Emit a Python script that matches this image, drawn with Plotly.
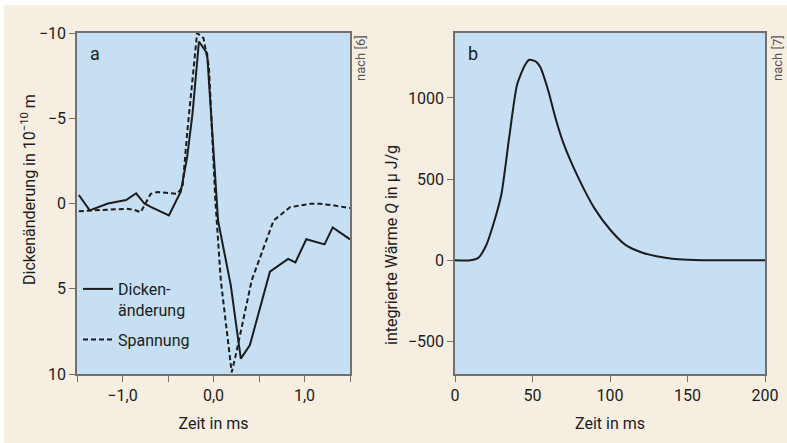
import plotly.graph_objects as go

# ---- Panel a data ----
t_dicke = [-1.48, -1.36, -1.16, -1.05, -0.96, -0.85, -0.76, -0.69, -0.49, -0.36, -0.29, -0.23,
           -0.16, -0.07, 0.05, 0.19, 0.30, 0.40, 0.62, 0.82, 0.90, 1.02, 1.22, 1.31, 1.50]
dicke = [-0.5, 0.4, 0.0, -0.1, -0.2, -0.6, 0.0, 0.2, 0.7, -0.7, -2.7, -5.3,
         -9.5, -8.8, 1.0, 4.8, 9.1, 8.3, 4.0, 3.25, 3.45, 2.1, 2.4, 1.4, 2.1]

t_spann = [-1.48, -1.23, -0.96, -0.87, -0.80, -0.69, -0.62, -0.40, -0.34, -0.29, -0.22, -0.18,
           -0.11, -0.05, 0.02, 0.08, 0.20, 0.24, 0.42, 0.55, 0.66, 0.84, 1.06, 1.17, 1.31, 1.50]
spann = [0.45, 0.37, 0.31, 0.37, 0.51, -0.57, -0.67, -0.57, -0.96, -4.1, -8.0, -10.0,
         -9.7, -8.0, -0.2, 4.5, 9.9, 9.0, 4.5, 2.6, 1.0, 0.22, 0.02, 0.02, 0.1, 0.27]

a_yticks = [-10, -5, 0, 5, 10]
a_yticklabels = ["\u221210", "\u22125", "0", "5", "10"]
a_xticks = [-1.0, 0.0, 1.0]
a_xticklabels = ["\u22121,0", "0,0", "1,0"]

# ---- Panel b data ----
t_b = [0, 10, 15, 20, 25, 30, 35, 40, 45, 48, 52, 55, 60, 65, 70, 80, 90, 100, 110, 120,
       130, 140, 150, 160, 200]
waerme = [0, 0, 15, 90, 230, 410, 760, 1080, 1200, 1235, 1225, 1190, 1050, 870, 720, 500,
          320, 190, 95, 50, 25, 10, 3, 0, 0]
b_yticks = [-500, 0, 500, 1000]
b_yticklabels = ["\u2212500", "0", "500", "1000"]
b_xticks = [0, 50, 100, 150, 200]

FONT = "Roboto, Liberation Sans, sans-serif"
INK = "#1c1c1c"
PLOTBG = "#c6dff3"
BEIGE = "#f6eee1"
FRAME = "#707070"

fig = go.Figure()

fig.add_trace(go.Scatter(x=t_dicke, y=dicke, mode="lines", name="Dicken-<br>änderung",
                         legendgroup="g1",
                         line=dict(color=INK, width=2), xaxis="x", yaxis="y"))
fig.add_trace(go.Scatter(x=t_spann, y=spann, mode="lines", name="Spannung",
                         legendgroup="g2",
                         line=dict(color=INK, width=2, dash="5px,3px"), xaxis="x", yaxis="y"))
fig.add_trace(go.Scatter(x=t_b, y=waerme, mode="lines", name="Wärme", showlegend=False,
                         line=dict(color=INK, width=2, shape="spline", smoothing=0.6),
                         xaxis="x2", yaxis="y2"))

W, H = 787, 443
ax_common = dict(showgrid=False, zeroline=False, showline=True, linecolor=FRAME, linewidth=1.5,
                 mirror=True, ticks="outside", ticklen=6, tickcolor=FRAME, tickwidth=1.2,
                 tickfont=dict(family=FONT, size=16, color=INK), automargin=False)

fig.update_layout(
    width=W, height=H,
    margin=dict(l=0, r=0, t=0, b=0),
    paper_bgcolor=BEIGE,
    plot_bgcolor=PLOTBG,
    separators=",.",
    font=dict(family=FONT, size=16, color=INK),
    xaxis=dict(domain=[77 / W, 350 / W], range=[-1.5, 1.5], tickvals=a_xticks,
               ticktext=a_xticklabels, anchor="y",
               minor=dict(dtick=0.5, tick0=0, ticks="outside", ticklen=6, tickcolor=FRAME),
               title=dict(text="Zeit in ms", font=dict(family=FONT, size=16, color=INK), standoff=14),
               **ax_common),
    yaxis=dict(domain=[1 - 374 / H, 1 - 33 / H], range=[10, -10], tickvals=a_yticks,
               ticktext=a_yticklabels, anchor="x", **ax_common),
    xaxis2=dict(domain=[455 / W, 765 / W], range=[0, 200], tickvals=b_xticks, anchor="y2",
                title=dict(text="Zeit in ms", font=dict(family=FONT, size=16, color=INK), standoff=14),
                **ax_common),
    yaxis2=dict(domain=[1 - 374 / H, 1 - 33 / H], range=[-700, 1400], tickvals=b_yticks,
                ticktext=b_yticklabels, anchor="x2", **ax_common),
    legend=dict(x=78 / W, y=1 - 272 / H, xanchor="left", yanchor="top", bgcolor="rgba(0,0,0,0)",
                font=dict(family=FONT, size=16, color=INK), valign="top", itemwidth=30,
                tracegroupgap=6),
    showlegend=True,
)

# thin white strips along the top and left edges of the page
fig.add_shape(type="rect", xref="paper", yref="paper", x0=0, x1=1, y0=1 - 5 / H, y1=1,
              fillcolor="white", line=dict(width=0), layer="below")
fig.add_shape(type="rect", xref="paper", yref="paper", x0=0, x1=4 / W, y0=0, y1=1,
              fillcolor="white", line=dict(width=0), layer="below")

annots = [
    dict(text="a", x=95 / W, y=1 - 53 / H, size=18, color=INK),
    dict(text="b", x=473 / W, y=1 - 53 / H, size=18, color=INK),
    dict(text="Dickenänderung in 10<sup>\u221210</sup> m", x=28 / W, y=1 - 190 / H,
         textangle=-90, size=16, color=INK),
    dict(text="integrierte Wärme <i>Q</i> in \u00b5 J/g", x=391 / W, y=1 - 245 / H,
         textangle=-90, size=16, color=INK),
    dict(text="nach [6]", x=360 / W, y=1 - 58 / H, textangle=-90, size=13, color="#555555"),
    dict(text="nach [7]", x=777 / W, y=1 - 58 / H, textangle=-90, size=13, color="#555555"),
]
for a in annots:
    size = a.pop("size")
    color = a.pop("color")
    fig.add_annotation(xref="paper", yref="paper", showarrow=False, xanchor="center",
                       yanchor="middle", font=dict(family=FONT, size=size, color=color), **a)

fig.write_html("out.html", config={"displayModeBar": False},
               post_script="document.body.style.margin='0';")
